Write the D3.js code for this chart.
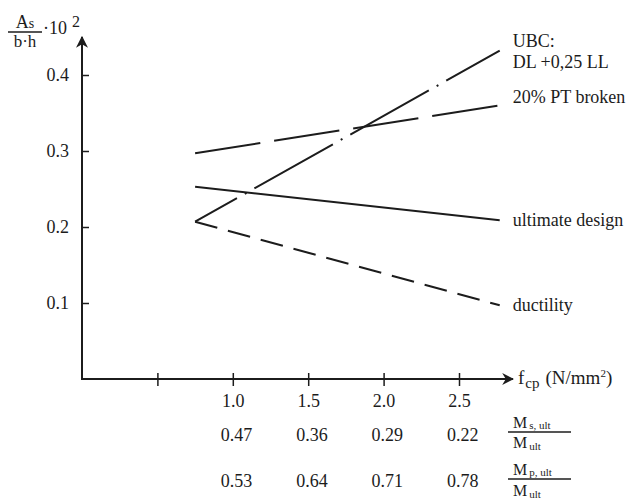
<!DOCTYPE html>
<html>
<head>
<meta charset="utf-8">
<script src="https://cdn.jsdelivr.net/npm/d3@7"></script>
<style>
  body { margin: 0; background: #fff; }
  svg text { font-family: "Liberation Serif", "Times New Roman", "DejaVu Serif", serif; fill: #1c1c1c; }
</style>
</head>
<body>
<svg id="chart" width="636" height="502"></svg>
<script>
// x values (prestress f_cp, N/mm2) where every line starts and ends
const fcp = [0.75, 2.77];

// As/(b*h)*10^2
const ultimateDesign = [0.253, 0.209];
const ptBroken = [0.297, 0.36];
const ubc = [0.207, 0.432];
const ductility = [0.207, 0.097];

const xTicks = [0.5, 1.0, 1.5, 2.0, 2.5];
const xTickLabels = ['', '1.0', '1.5', '2.0', '2.5'];
const msRatio = ['', '0.47', '0.36', '0.29', '0.22'];
const mpRatio = ['', '0.53', '0.64', '0.71', '0.78'];
const yTicks = [0.1, 0.2, 0.3, 0.4];

const ink = '#1c1c1c';
const serif = '"Liberation Serif", "Times New Roman", serif';
const svg = d3.select('#chart');

const x = d3.scaleLinear().domain([0, 2.5]).range([82, 459]);
const y = d3.scaleLinear().domain([0, 0.4]).range([379, 75]);

// arrow heads for both axes
const defs = svg.append('defs');
defs.append('marker')
  .attr('id', 'arrow')
  .attr('viewBox', '0 -5 10 10')
  .attr('refX', 9)
  .attr('refY', 0)
  .attr('markerWidth', 6)
  .attr('markerHeight', 6)
  .attr('orient', 'auto')
  .append('path')
  .attr('d', 'M0,-5L10,0L0,5L3,0Z')
  .attr('fill', ink);

// axis lines
svg.append('line')
  .attr('x1', x(0)).attr('y1', y(0))
  .attr('x2', x(0)).attr('y2', 37)
  .attr('stroke', ink).attr('stroke-width', 2)
  .attr('marker-end', 'url(#arrow)');
svg.append('line')
  .attr('x1', x(0) - 1).attr('y1', y(0))
  .attr('x2', 513).attr('y2', y(0))
  .attr('stroke', ink).attr('stroke-width', 2)
  .attr('marker-end', 'url(#arrow)');

// y ticks, crossing the axis
const yAxis = svg.append('g')
  .attr('transform', `translate(${x(0)},0)`)
  .call(d3.axisLeft(y).tickValues(yTicks).tickFormat(d3.format('.1f')).tickSize(6).tickPadding(7));
yAxis.select('.domain').remove();
yAxis.selectAll('.tick line').attr('x2', 7).attr('stroke', ink).attr('stroke-width', 1.5);
yAxis.selectAll('.tick text')
  .attr('font-size', 18).attr('font-family', serif).attr('fill', ink);

// x ticks, crossing the axis
const xAxis = svg.append('g')
  .attr('transform', `translate(0,${y(0)})`)
  .call(d3.axisBottom(x).tickValues(xTicks).tickFormat((d, i) => xTickLabels[i]).tickSize(7).tickPadding(8));
xAxis.select('.domain').remove();
xAxis.selectAll('.tick line').attr('y1', -6).attr('stroke', ink).attr('stroke-width', 1.5);
xAxis.selectAll('.tick text')
  .attr('font-size', 18).attr('font-family', serif).attr('fill', ink);

// extra rows of moment ratios under the x tick labels
const rows = [{ vals: msRatio, y: 441 }, { vals: mpRatio, y: 487 }];
rows.forEach(r => {
  svg.append('g').selectAll('text')
    .data(xTicks)
    .enter()
    .append('text')
    .attr('x', d => x(d) - 12)
    .attr('y', r.y)
    .attr('font-size', 18)
    .text((d, i) => r.vals[i]);
});

// fraction labels to the right of the ratio rows
const fraction = (gx, gy, sub, denY) => {
  const g = svg.append('g').attr('transform', `translate(${gx},${gy})`);
  const num = g.append('text').attr('x', 5).attr('y', -4).attr('font-size', 16);
  num.append('tspan').text('M');
  num.append('tspan').attr('font-size', 11).attr('dx', 2).attr('dy', 1).text(sub);
  g.append('line').attr('x1', 0).attr('x2', 63).attr('y1', 0).attr('y2', 0)
    .attr('stroke', ink).attr('stroke-width', 1.5);
  const den = g.append('text').attr('x', 5).attr('y', denY).attr('font-size', 16);
  den.append('tspan').text('M');
  den.append('tspan').attr('font-size', 11).attr('dx', 2).attr('dy', 2).text('ult');
};
fraction(508, 432, 's, ult', 16);
fraction(508, 479, 'p, ult', 17);

// x axis title
const xTitle = svg.append('text').attr('x', 518).attr('y', 384).attr('font-size', 19);
xTitle.append('tspan').text('f');
xTitle.append('tspan').attr('font-size', 15).attr('dx', 1).attr('dy', 4).text('cp');
xTitle.append('tspan').attr('dy', -4).attr('dx', 6).text('(N/mm');
xTitle.append('tspan').attr('font-size', 11).attr('dy', -7).text('2');
xTitle.append('tspan').attr('dy', 7).text(')');

// y axis title: As / (b·h) · 10^2
const yTitle = svg.append('g');
const yNum = yTitle.append('text').attr('x', 25).attr('y', 28).attr('text-anchor', 'middle').attr('font-size', 18);
yNum.append('tspan').text('A');
yNum.append('tspan').attr('font-size', 14).text('s');
yTitle.append('line').attr('x1', 8).attr('x2', 42).attr('y1', 32).attr('y2', 32)
  .attr('stroke', ink).attr('stroke-width', 1.3);
yTitle.append('text').attr('x', 25).attr('y', 47).attr('text-anchor', 'middle').attr('font-size', 17).text('b·h');
yTitle.append('text').attr('x', 43).attr('y', 34).attr('font-size', 18).text('·10');
yTitle.append('text').attr('x', 72).attr('y', 27).attr('font-size', 16).text('2');

// the four design curves
const series = [
  { name: 'ultimate', vals: ultimateDesign, dash: null, offset: 0 },
  { name: 'pt', vals: ptBroken, dash: '66,14', offset: 0 },
  { name: 'ubc', vals: ubc, dash: '90,9,2,9', offset: 42 },
  { name: 'ductility', vals: ductility, dash: '23,11', offset: 0 }
];
const line = d3.line().x(d => x(d[0])).y(d => y(d[1]));
svg.append('g').selectAll('path')
  .data(series)
  .enter()
  .append('path')
  .attr('d', s => line(fcp.map((f, i) => [f, s.vals[i]])))
  .attr('fill', 'none')
  .attr('stroke', ink)
  .attr('stroke-width', 2)
  .attr('stroke-dasharray', s => s.dash)
  .attr('stroke-dashoffset', s => s.offset);

// end labels
const lx = x(fcp[1]) + 13;
const labels = [
  { lines: ['UBC:', 'DL +0,25 LL'], v: ubc[1], dy: -4 },
  { lines: ['20% PT broken'], v: ptBroken[1], dy: -2 },
  { lines: ['ultimate design'], v: ultimateDesign[1], dy: 6 },
  { lines: ['ductility'], v: ductility[1], dy: 6 }
];
labels.forEach(l => {
  const t = svg.append('text').attr('x', lx).attr('y', y(l.v) + l.dy).attr('font-size', 18);
  l.lines.forEach((s, i) => {
    t.append('tspan').attr('x', lx).attr('dy', i === 0 ? 0 : 21).text(s);
  });
});
</script>
</body>
</html>
